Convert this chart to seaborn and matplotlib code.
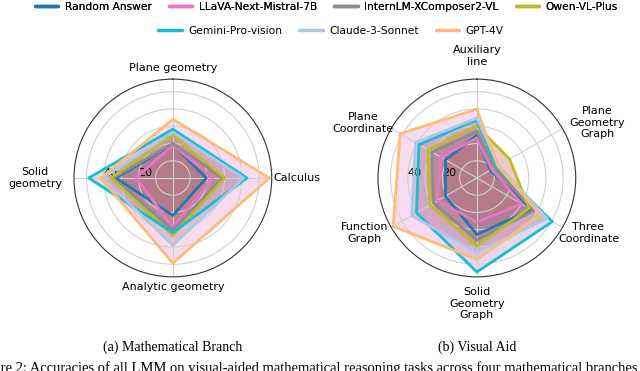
import numpy as np
import pandas as pd
import matplotlib
matplotlib.use("Agg")
import matplotlib.pyplot as plt
import seaborn as sns
from matplotlib.lines import Line2D

# ------------------ data ------------------
models = ["Random Answer", "LLaVA-Next-Mistral-7B", "InternLM-XComposer2-VL",
          "Owen-VL-Plus", "Gemini-Pro-vision", "Claude-3-Sonnet", "GPT-4V"]
line_colors = ["#1f77b4", "#e377c2", "#8c8c8c", "#bcbd22", "#17becf", "#aec7e8", "#ffbb78"]

branch_cats = ["Plane geometry", "Calculus", "Analytic geometry", "Solid\ngeometry"]
branch_random = [19.6, 19.4, 21.7, 33.0]
branch_llava = [19.0, 23.3, 28.5, 21.3]
branch_internlm = [20.0, 29.0, 30.0, 34.5]
branch_qwen = [24.8, 30.0, 33.3, 35.9]
branch_gemini = [28.3, 43.0, 31.6, 48.8]
branch_claude = [26.5, 41.0, 39.0, 40.7]
branch_gpt4v = [34.0, 56.0, 49.4, 41.7]

aid_cats = ["Auxiliary\nline", "Plane\nGeometry\nGraph", "Three\nCoordinate",
            "Solid\nGeometry\nGraph", "Function\nGraph", "Plane\nCoordinate"]
aid_random = [24.7, 9.0, 36.5, 32.8, 21.0, 21.0]
aid_llava = [23.1, 10.0, 30.0, 25.6, 26.3, 24.2]
aid_internlm = [27.0, 12.0, 38.0, 36.0, 29.0, 30.0]
aid_qwen = [30.2, 21.9, 35.0, 39.5, 31.4, 32.7]
aid_gemini = [33.7, 13.0, 50.5, 54.5, 40.4, 38.7]
aid_claude = [34.7, 14.5, 47.0, 43.0, 43.6, 41.0]
aid_gpt4v = [39.9, 14.0, 42.5, 47.2, 56.0, 51.3]

branch_data = [branch_random, branch_llava, branch_internlm, branch_qwen,
               branch_gemini, branch_claude, branch_gpt4v]
aid_data = [aid_random, aid_llava, aid_internlm, aid_qwen,
            aid_gemini, aid_claude, aid_gpt4v]

# label offsets (pixels) from the outer ring, per category
branch_offsets = [(0, 11), (25, 0), (0, -10), (-39, 0)]
aid_offsets = [(0, 23), (35, 6), (26, -5.5), (0, -27), (-27, -5.5), (-28, 5.5)]

sns.set_style("white")
plt.rcParams['font.family'] = ['DejaVu Sans']
plt.rcParams['text.color'] = 'black'
plt.rcParams['xtick.color'] = 'black'
plt.rcParams['ytick.color'] = 'black'
fill_colors = sns.color_palette("tab10", 7)
RMAX = 57.3


def radar(ax, cats, data, offsets):
    n = len(cats)
    angles = np.linspace(0, 2 * np.pi, n, endpoint=False)
    closed = np.concatenate([angles, angles[:1]])
    ax.set_theta_offset(np.pi / 2)
    ax.set_theta_direction(-1)
    for i, vals in enumerate(data):
        v = np.concatenate([vals, vals[:1]])
        df = pd.DataFrame({"theta": closed, "r": v})
        sns.lineplot(data=df, x="theta", y="r", ax=ax, color=line_colors[i],
                     lw=2, sort=False, estimator=None, legend=False)
        ax.fill(closed, v, color=fill_colors[i], alpha=0.25, lw=0)
    ax.set_xlabel("")
    ax.set_ylabel("")
    ax.set_axisbelow("line")
    ax.set_xticks(angles)
    ax.set_xticklabels([])
    ax.set_ylim(0, RMAX)
    ax.set_yticks([10, 20, 30, 40, 50])
    ax.set_yticklabels(["", "20", "", "40", ""], fontsize=8)
    ax.set_rlabel_position(270)
    ax.tick_params(axis="y", pad=-3)
    ax.grid(True, color="#d0d0d0", lw=0.8)
    ax.spines["polar"].set_color("#333333")
    ax.spines["polar"].set_linewidth(0.8)
    for a, lab, off in zip(angles, cats, offsets):
        ax.annotate(lab, xy=(a, RMAX), xytext=off, textcoords="offset pixels",
                    ha="center", va="center", fontsize=8, annotation_clip=False)


fig = plt.figure(figsize=(6.4, 3.71), dpi=100)
ax1 = fig.add_axes([0.1156, 0.2534, 0.309, 0.5337], projection="polar")
ax2 = fig.add_axes([0.5906, 0.2534, 0.309, 0.5337], projection="polar")
radar(ax1, branch_cats, branch_data, branch_offsets)
radar(ax2, aid_cats, aid_data, aid_offsets)

handles = [Line2D([], [], color=c, lw=2.5) for c in line_colors]
leg1 = fig.legend(handles[:4], models[:4], loc="center", bbox_to_anchor=(0.51, 0.982),
                  ncol=4, frameon=False, fontsize=7.7, handlelength=2.2,
                  columnspacing=1.6, handletextpad=0.6, borderpad=0)
fig.legend(handles[4:], models[4:], loc="center", bbox_to_anchor=(0.517, 0.917),
           ncol=3, frameon=False, fontsize=7.7, handlelength=2.2,
           columnspacing=1.6, handletextpad=0.6, borderpad=0)
fig.add_artist(leg1)

fig.text(0.27, 0.065, "(a) Mathematical Branch", ha="center", va="center",
         family="Liberation Serif", fontsize=10)
fig.text(0.746, 0.065, "(b) Visual Aid", ha="center", va="center",
         family="Liberation Serif", fontsize=10)
fig.text(-0.04, 0.008, "Figure 2: Accuracies of all LMM on visual-aided mathematical "
         "reasoning tasks across four mathematical branches", ha="left", va="center",
         family="Liberation Serif", fontsize=10.5)

fig.savefig("out.png", dpi=100)
